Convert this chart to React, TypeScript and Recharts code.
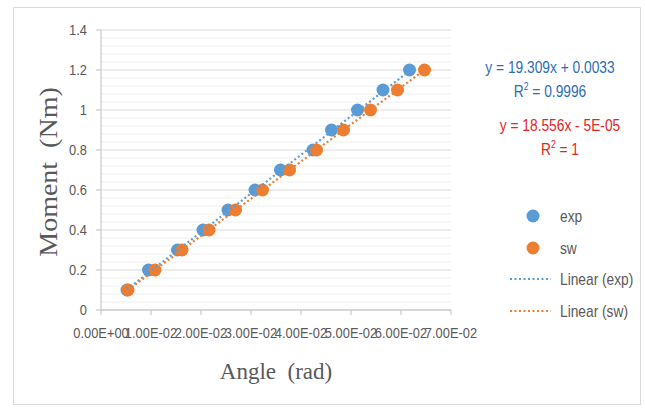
import React from 'react';
import { ScatterChart, Scatter, XAxis, YAxis, CartesianGrid, ReferenceLine } from 'recharts';

// moment (Nm) applied, shared by both series
const moment = [0.1, 0.2, 0.3, 0.4, 0.5, 0.6, 0.7, 0.8, 0.9, 1.0, 1.1, 1.2];
// rotation angle (rad)
const expAngle = [0.0052, 0.0095, 0.0153, 0.0204, 0.0254, 0.0308, 0.0359, 0.0424, 0.0461, 0.0513, 0.0564, 0.0617];
const swAngle = [0.0054, 0.0108, 0.0162, 0.0216, 0.0269, 0.0323, 0.0377, 0.0431, 0.0485, 0.0539, 0.0593, 0.0647];

const xTicks = [0, 0.01, 0.02, 0.03, 0.04, 0.05, 0.06, 0.07];
const yTicks = [0, 0.2, 0.4, 0.6, 0.8, 1.0, 1.2, 1.4];

// excel trendline coefficients shown on the chart
const expFit = { slope: 19.309, intercept: 0.0033 };
const swFit = { slope: 18.556, intercept: -0.00005 };

const BLUE = '#5b9bd5';
const ORANGE = '#ed7d31';
const GRAY = '#595959';
const SANS = '"Liberation Sans", Arial, sans-serif';
const SERIF = '"Liberation Serif", "Times New Roman", serif';
const SQUEEZE = 0.86; // the original font is a condensed one

const expData = moment.map((y, i) => ({ x: expAngle[i], y }));
const swData = moment.map((y, i) => ({ x: swAngle[i], y }));

function trendLine(xs: number[], fit: { slope: number; intercept: number }) {
  const lo = Math.min(...xs);
  const hi = Math.max(...xs);
  return [lo, hi].map((x) => ({ x, y: fit.slope * x + fit.intercept }));
}

// minor gridlines every 0.04 between the major ones
const minorLines: number[] = [];
for (let i = 1; i < 35; i++) {
  if (i % 5 !== 0) minorLines.push(+(i * 0.04).toFixed(2));
}

const sci = (v: number) => {
  if (v === 0) return '0.00E+00';
  const [m, e] = v.toExponential(2).toUpperCase().split('E');
  const sign = e[0] === '-' ? '-' : '+';
  const digits = e.replace(/[+-]/, '').padStart(2, '0');
  return `${m}E${sign}${digits}`;
};

const XTick = (props: any) => (
  <g transform={`translate(${props.x},${props.y})`}>
    <text transform={`scale(${SQUEEZE},1)`} textAnchor="middle" dy="0.71em" fontFamily={SANS} fontSize={15} fill={GRAY}>
      {sci(props.payload.value)}
    </text>
  </g>
);

const YTick = (props: any) => (
  <g transform={`translate(${props.x},${props.y})`}>
    <text transform={`scale(${SQUEEZE},1)`} textAnchor="end" dy="0.355em" fontFamily={SANS} fontSize={15} fill={GRAY}>
      {String(+Number(props.payload.value).toFixed(1))}
    </text>
  </g>
);

const dot = (color: string) => (props: any) => (
  <circle cx={props.cx} cy={props.cy} r={6.5} fill={color} />
);
const noDot = () => <g />;

const eqStyle = (left: number, top: number, color: string): React.CSSProperties => ({
  position: 'absolute',
  left,
  top,
  transform: `translate(-50%, -50%) scaleX(${SQUEEZE})`,
  fontFamily: SANS,
  fontSize: 16,
  color,
  textAlign: 'center',
  lineHeight: '24px',
  whiteSpace: 'pre',
});
const sup: React.CSSProperties = { fontSize: 10, verticalAlign: 'top', lineHeight: '14px' };

const legendRows = [
  { label: 'exp', y: 216 },
  { label: 'sw', y: 248 },
  { label: 'Linear (exp)', y: 279 },
  { label: 'Linear (sw)', y: 311 },
];

export default function App() {
  return (
    <div style={{ position: 'absolute', left: 0, top: 0, width: 645, height: 414, background: '#fff' }}>
      <div
        style={{
          position: 'absolute',
          left: 13,
          top: 7,
          width: 626,
          height: 396,
          border: '1px solid #d9d9d9',
        }}
      />
      <div style={{ position: 'absolute', left: 0, top: 0 }}>
        <ScatterChart width={645} height={414} margin={{ top: 30, right: 194, bottom: 74, left: 41 }}>
          <CartesianGrid vertical={false} stroke="#d9d9d9" />
          {minorLines.map((v) => (
            <ReferenceLine key={v} y={v} stroke="#efefef" />
          ))}
          <XAxis
            type="number"
            dataKey="x"
            domain={[0, 0.07]}
            ticks={xTicks}
            interval={0}
            height={30}
            axisLine={{ stroke: '#bfbfbf' }}
            tickLine={{ stroke: '#bfbfbf' }}
            tickSize={5}
            tickMargin={12}
            tick={<XTick />}
          />
          <YAxis
            type="number"
            dataKey="y"
            domain={[0, 1.4]}
            ticks={yTicks}
            width={60}
            axisLine={{ stroke: '#bfbfbf' }}
            tickLine={{ stroke: '#bfbfbf' }}
            tickSize={5}
            tickMargin={9}
            tick={<YTick />}
          />
          <Scatter data={expData} shape={dot(BLUE)} isAnimationActive={false} />
          <Scatter data={swData} shape={dot(ORANGE)} isAnimationActive={false} />
          <Scatter
            data={trendLine(expAngle, expFit)}
            shape={noDot}
            line={{ stroke: BLUE, strokeWidth: 2.2, strokeDasharray: '2 2.5' }}
            isAnimationActive={false}
          />
          <Scatter
            data={trendLine(swAngle, swFit)}
            shape={noDot}
            line={{ stroke: ORANGE, strokeWidth: 2.2, strokeDasharray: '2 2.5' }}
            isAnimationActive={false}
          />
        </ScatterChart>
      </div>

      {/* axis titles */}
      <div
        style={{
          position: 'absolute',
          left: 49,
          top: 172,
          transform: 'translate(-50%, -50%) rotate(-90deg) scaleX(1.12)',
          fontFamily: SERIF,
          fontSize: 25,
          color: GRAY,
          whiteSpace: 'pre',
        }}
      >
        {'Moment  (Nm)'}
      </div>
      <div
        style={{
          position: 'absolute',
          left: 276,
          top: 372,
          transform: 'translate(-50%, -50%)',
          fontFamily: SERIF,
          fontSize: 23,
          color: GRAY,
          whiteSpace: 'pre',
        }}
      >
        {'Angle  (rad)'}
      </div>

      {/* trendline equations */}
      <div style={eqStyle(550, 80, '#2e6db4')}>
        {'y = 19.309x + 0.0033'}
        <br />
        R<sup style={sup}>2</sup> = 0.9996
      </div>
      <div style={eqStyle(560, 138, '#e3231f')}>
        {'y = 18.556x - 5E-05'}
        <br />
        R<sup style={sup}>2</sup> = 1
      </div>

      {/* legend */}
      <svg style={{ position: 'absolute', left: 0, top: 0 }} width={645} height={414}>
        <circle cx={533} cy={216} r={6.5} fill={BLUE} />
        <circle cx={533} cy={248} r={6.5} fill={ORANGE} />
        <line x1={510} x2={551} y1={279} y2={279} stroke={BLUE} strokeWidth={2.2} strokeDasharray="2 2.5" />
        <line x1={510} x2={551} y1={311} y2={311} stroke={ORANGE} strokeWidth={2.2} strokeDasharray="2 2.5" />
        {legendRows.map((r) => (
          <g key={r.label} transform={`translate(560,${r.y})`}>
            <text transform={`scale(${SQUEEZE},1)`} dy="0.35em" fontFamily={SANS} fontSize={16} fill={GRAY}>
              {r.label}
            </text>
          </g>
        ))}
      </svg>
    </div>
  );
}
